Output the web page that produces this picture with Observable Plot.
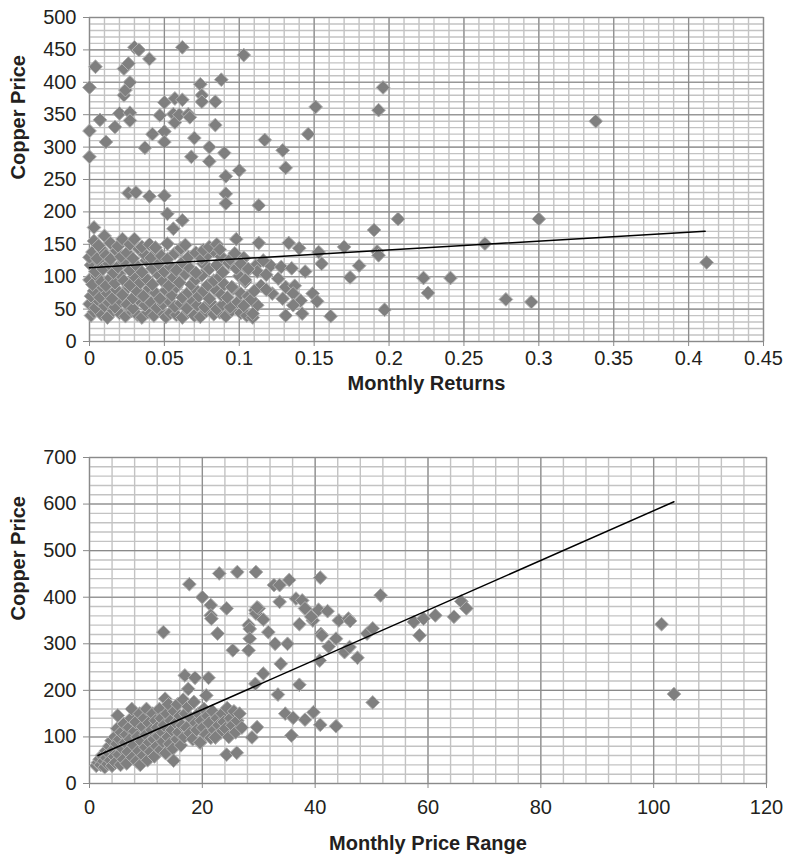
<!DOCTYPE html>
<html><head><meta charset="utf-8">
<script src="https://cdn.jsdelivr.net/npm/d3@7"></script>
<script src="https://cdn.jsdelivr.net/npm/@observablehq/plot@0.6"></script>
<style>
html,body{margin:0;padding:0;background:#fff;}
#c svg{display:block;}
</style></head><body><div id="c"></div>
<script>
// ---------- Top chart: Monthly Returns vs Copper Price ----------
const topXTicks = [0, 0.05, 0.1, 0.15, 0.2, 0.25, 0.3, 0.35, 0.4, 0.45];
const topYTicks = [0, 50, 100, 150, 200, 250, 300, 350, 400, 450, 500];
const topXLabel = "Monthly Returns";
const yLabel = "Copper Price";

const topCluster = [
[0.001,40],[0.003,46],[0.008,42],[0.012,37],[0.016,48],[0.020,44],[0.024,39],[0.028,47],[0.032,41],[0.035,37],[0.039,45],[0.043,40],[0.047,48],[0.051,38],[0.054,44],[0.058,41],[0.062,37],[0.066,46],[0.070,40],[0.074,38],[0.078,47],[0.083,42],[0.087,45],[0.091,39],[0.095,48],[0.101,44],[0.105,40],[0.109,37],
[0.000,58],[0.004,52],[0.006,63],[0.010,55],[0.013,60],[0.017,53],[0.021,62],[0.025,57],[0.029,51],[0.033,64],[0.037,56],[0.041,60],[0.045,52],[0.049,58],[0.053,63],[0.057,54],[0.061,59],[0.065,51],[0.069,62],[0.072,56],[0.077,53],[0.081,60],[0.085,50],[0.089,57],[0.094,53],[0.099,61],[0.103,55],[0.108,65],
[0.001,70],[0.003,78],[0.007,68],[0.009,83],[0.012,74],[0.015,66],[0.018,80],[0.022,72],[0.026,84],[0.029,67],[0.032,77],[0.036,70],[0.040,82],[0.044,75],[0.047,66],[0.051,79],[0.055,71],[0.058,84],[0.062,68],[0.066,76],[0.070,82],[0.073,70],[0.076,78],[0.080,66],[0.084,80],[0.088,72],[0.092,68],[0.096,82],[0.101,74],[0.106,70],
[0.000,95],[0.002,88],[0.005,101],[0.008,92],[0.011,86],[0.014,98],[0.017,90],[0.020,104],[0.023,94],[0.027,87],[0.030,100],[0.034,91],[0.038,97],[0.042,88],[0.046,103],[0.049,93],[0.053,86],[0.056,99],[0.060,91],[0.064,104],[0.068,88],[0.071,96],[0.075,102],[0.079,87],[0.083,94],[0.087,100],[0.090,88],[0.095,84],[0.100,101],[0.104,92],
[0.001,118],[0.004,108],[0.006,124],[0.009,112],[0.013,120],[0.016,106],[0.019,115],[0.023,123],[0.027,110],[0.031,118],[0.035,107],[0.038,125],[0.042,113],[0.046,120],[0.050,108],[0.054,116],[0.058,110],[0.062,122],[0.067,113],[0.071,106],[0.076,120],[0.080,112],[0.085,118],[0.089,107],[0.093,121],[0.098,113],[0.102,126],[0.106,110],
[0.000,130],[0.002,138],[0.005,128],[0.008,142],[0.011,133],[0.014,127],[0.018,140],[0.021,131],[0.025,137],[0.029,128],[0.033,143],[0.037,134],[0.041,129],[0.045,140],[0.048,132],[0.052,127],[0.057,136],[0.061,142],[0.066,130],[0.071,137],[0.075,128],[0.079,134],[0.083,140],[0.088,131],[0.094,127],[0.097,136],[0.103,129],
[0.003,155],[0.006,148],[0.010,163],[0.014,152],[0.019,147],[0.022,158],[0.027,150],[0.030,158],[0.035,146],[0.040,150],[0.044,145],[0.052,151],[0.061,144],[0.064,149],[0.076,141],[0.080,146],[0.085,150],[0.087,142]
];
const topMid = [
[0.026,229],[0.031,230],[0.040,224],[0.050,225],[0.052,197],[0.056,174],[0.062,187],[0.091,228],[0.091,213],[0.113,210],[0.206,189],[0.300,189],
[0.003,176],[0.098,158],[0.113,152],[0.133,152],[0.140,144],[0.153,138],[0.155,120],[0.170,146],[0.174,99],[0.180,117],[0.190,172],[0.192,139],[0.193,133],[0.197,49],[0.161,39],[0.223,98],[0.226,75],[0.241,98],[0.264,151],[0.278,65],[0.295,61],[0.412,122],
[0.121,117],[0.128,115],[0.135,113],[0.144,108],[0.126,97],[0.1145,86],[0.111,117],[0.112,108],[0.122,74],[0.129,66],[0.131,84],[0.137,86],[0.136,74],[0.141,63],[0.149,74],[0.152,62],[0.142,43],[0.131,40],[0.136,56],[0.112,56],[0.109,43],[0.108,65],
[0.101,120],[0.106,112],[0.116,125],[0.118,103],[0.104,95],[0.110,78],[0.118,80]
];
const topUpper = [
[0.000,392],[0.004,424],[0.000,325],[0.000,285],[0.007,342],[0.011,308],[0.017,331],[0.020,352],[0.023,380],[0.024,388],[0.023,421],[0.026,429],[0.027,400],[0.027,353],[0.027,341],[0.030,454],[0.033,450],[0.040,436],[0.037,299],[0.042,320],[0.047,349],[0.050,369],[0.050,324],[0.050,308],[0.056,351],[0.057,338],[0.057,375],[0.062,373],[0.062,454],[0.060,350],[0.066,351],[0.067,346],[0.068,285],[0.070,314],[0.074,397],[0.075,380],[0.075,370],[0.080,300],[0.080,278],[0.084,370],[0.084,334],[0.088,404],[0.090,291],[0.091,255],[0.100,264],[0.103,442],[0.117,311],[0.129,295],[0.131,268],[0.146,320],[0.151,362],[0.193,357],[0.196,392],[0.338,340]
];
const topTrendX = [0.0, 0.411];
const topTrendY = [114, 170];

// ---------- Bottom chart: Monthly Price Range vs Copper Price ----------
const botXTicks = [0, 20, 40, 60, 80, 100, 120];
const botYTicks = [0, 100, 200, 300, 400, 500, 600, 700];
const botXLabel = "Monthly Price Range";

const botCluster = [
[1.2,38],[1.5,45],[1.8,52],[2.0,40],[2.2,60],[2.5,48],[2.7,35],[2.9,70],[3.0,55],[3.2,42],
[3.4,65],[3.5,80],[3.7,50],[3.9,92],[4.0,38],[4.2,72],[4.4,58],[4.5,100],[4.6,45],[4.8,85],[4.9,118],[5.0,146],
[5.2,62],[5.3,95],[5.5,40],[5.6,110],[5.8,75],[6.0,52],[6.1,128],[6.3,88],[6.5,105],[6.6,43],[6.8,68],[7.0,120],
[7.2,95],[7.4,140],[7.5,160],[7.6,56],[7.8,82],[8.0,112],[8.2,132],[8.3,48],[8.5,100],[8.7,70],[8.9,150],[9.0,40],
[9.2,90],[9.4,122],[9.5,60],[9.7,140],[9.9,78],[10.0,105],[10.1,160],[10.3,50],[10.5,130],[10.6,88],[10.8,68],[11.0,115],
[11.2,150],[11.4,95],[11.5,58],[11.7,135],[11.9,80],[12.0,120],[12.2,102],[12.4,160],[12.6,72],[12.7,140],[12.9,110],[13.0,90],
[13.2,125],[13.4,182],[13.5,65],[13.7,150],[13.9,100],[14.0,170],[14.2,85],[14.4,135],[14.6,115],[14.8,75],[15.0,155],
[15.3,130],[15.5,95],[15.6,170],[15.8,110],[16.0,145],[16.2,82],[16.4,125],[16.6,180],[16.8,100],[17.0,150],
[17.2,120],[17.5,165],[17.8,108],[18.0,140],[18.3,95],[18.5,175],[18.8,130],[19.0,115],[19.3,150],[19.6,88],[19.8,135],
[20.1,120],[20.3,160],[20.6,105],[20.9,145],[21.2,130],[21.5,98],[21.8,155],[22.1,115],[22.3,99],[22.6,140],[22.9,125],
[23.2,108],[23.5,150],[23.8,132],[24.1,118],[24.4,162],[24.7,100],[25.0,140],[25.3,125],[25.6,155],[25.9,110],[26.2,135],[26.6,150],[27.0,120]
];
const botUpper = [
[17.7,428],[20.0,400],[21.5,383],[21.5,361],[21.6,354],[22.7,322],[23.0,451],[24.3,376],[26.2,454],[28.2,340],[28.4,332],[28.4,311],[29.4,372],[29.5,454],[29.5,365],[30.0,376],[30.8,352],[31.7,325],[32.7,426],[33.7,426],[33.7,390],[35.4,437],[36.6,397],[37.7,393],[37.2,342],[38.5,372],[39.6,350],[40.9,442],[40.6,373],[42.2,370],[41.0,321],[44.2,350],[45.9,354],[46.2,349],[49.2,322],[50.2,333],[51.6,404],[57.5,347],[59.2,354],[61.3,361],[64.6,358],[65.9,391],[66.8,376],[58.5,318],[101.4,342],[103.6,192],
[38.2,376],[39.3,358],[29.7,378],[32.9,300],[35.1,300],[41.2,318],[42.4,294],[43.7,311],[45.2,282],[46.1,293],[47.5,270],[33.9,257],[40.8,264],[30.8,236],[29.4,214],[37.2,212],[33.4,191],[50.2,174],[34.7,150],[36.1,141],[38.2,137],[39.7,153],[40.9,126],[43.7,123],[35.8,103],[29.7,121],[28.8,99],
[13.1,325],[25.4,286],[28.2,286],[16.9,232],[18.7,227],[21.1,227],[17.5,203],[20.7,189],[24.3,62],[26.1,66],[14.9,49],[22.3,99],[19.6,88]
];
const botTrendX = [1.5, 103.6];
const botTrendY = [60, 605];

// ---------- styling ----------
const FONT = "'Liberation Sans', Arial, Helvetica, sans-serif";
const TXT = "#231f20";
const MAJOR = "#8a8a8a";
const MINOR = "#c3c3c3";
const DOT = {symbol: "diamond2", r: 6.2, fill: "#7f7f7f", stroke: "#b0b0b0", strokeWidth: 1};
const fmt = d => String(+d.toFixed(2));

function chart({height, mt, mb, mr, xDomain, yDomain, xTicks, yTicks, minorX, minorY, points, trendX, trendY, xTitle, xTitleDy, tickPadX}) {
  const trend = trendX.map((x, i) => ({x, y: trendY[i]}));
  return Plot.plot({
    width: 787, height,
    marginLeft: 89, marginRight: mr, marginTop: mt, marginBottom: mb,
    style: {fontFamily: FONT, fontSize: "20px", color: TXT, background: "white", overflow: "visible"},
    x: {domain: xDomain}, y: {domain: yDomain},
    marks: [
      Plot.ruleX(minorX, {stroke: MINOR, strokeWidth: 1.4}),
      Plot.ruleY(minorY, {stroke: MINOR, strokeWidth: 1.4}),
      Plot.ruleX(xTicks, {stroke: MAJOR, strokeWidth: 1.1}),
      Plot.ruleY(yTicks, {stroke: MAJOR, strokeWidth: 1.1}),
      Plot.frame({stroke: MAJOR, strokeWidth: 1.2}),
      Plot.axisX({ticks: xTicks, tickFormat: fmt, tickSize: 5, tickPadding: tickPadX, label: null, stroke: MAJOR, fill: TXT, fontSize: 20}),
      Plot.axisY({ticks: yTicks, tickFormat: fmt, tickSize: 6, tickPadding: 7, label: null, stroke: MAJOR, fill: TXT, fontSize: 20}),
      Plot.dot(points, {x: d => d[0], y: d => d[1], ...DOT}),
      Plot.line(trend, {x: "x", y: "y", stroke: "black", strokeWidth: 1.5}),
      Plot.text([yLabel], {frameAnchor: "left", dx: -71, rotate: -90, text: d => d, fontWeight: "bold", fontSize: 20, fill: TXT}),
      Plot.text([xTitle], {frameAnchor: "bottom", lineAnchor: "middle", dy: xTitleDy, text: d => d, fontWeight: "bold", fontSize: 20, fill: TXT})
    ]
  });
}

const c = document.getElementById("c");
c.append(chart({
  height: 400, mt: 17, mb: 59, mr: 24,
  xDomain: [0, 0.45], yDomain: [0, 500],
  xTicks: topXTicks, yTicks: topYTicks,
  minorX: d3.range(0, 0.4501, 0.01), minorY: d3.range(0, 501, 10),
  points: [...topCluster, ...topMid, ...topUpper],
  trendX: topTrendX, trendY: topTrendY,
  xTitle: topXLabel, xTitleDy: 42, tickPadX: 4
}));
c.append(chart({
  height: 456, mt: 57, mb: 73, mr: 21,
  xDomain: [0, 120], yDomain: [0, 700],
  xTicks: botXTicks, yTicks: botYTicks,
  minorX: d3.range(0, 121, 4), minorY: d3.range(0, 701, 20),
  points: [...botCluster, ...botUpper],
  trendX: botTrendX, trendY: botTrendY,
  xTitle: botXLabel, xTitleDy: 60, tickPadX: 11
}));
</script></body></html>
